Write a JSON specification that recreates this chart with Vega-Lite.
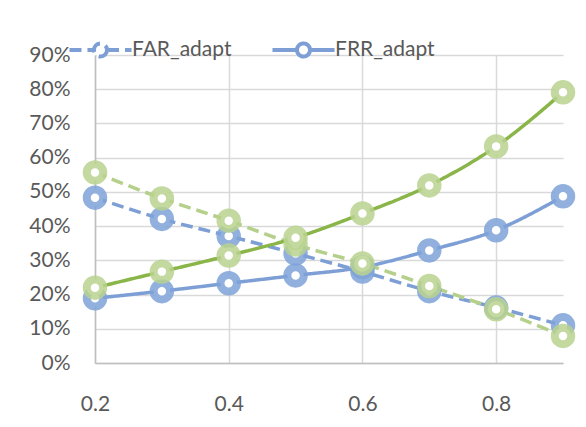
{
  "$schema": "https://vega.github.io/schema/vega-lite/v6.json",
  "autosize": {"type": "none"},
  "padding": {"left": 95, "top": 55, "right": 23, "bottom": 64},
  "width": 468,
  "height": 308,
  "background": "white",
  "config": {
    "view": {"stroke": null},
    "font": "Lato",
    "axis": {"labelFont": "Lato", "labelFontSize": 21, "labelColor": "#595959", "gridColor": "#d9d9d9", "gridWidth": 1.5, "domainColor": "#bfbfbf", "domainWidth": 1.5, "ticks": false, "title": null}
  },
  "data": {
    "values": [
      {"series": "FAR_adapt", "t": 0.2, "v": 0.483},
      {"series": "FAR_adapt", "t": 0.3, "v": 0.421},
      {"series": "FAR_adapt", "t": 0.4, "v": 0.371},
      {"series": "FAR_adapt", "t": 0.5, "v": 0.320},
      {"series": "FAR_adapt", "t": 0.6, "v": 0.267},
      {"series": "FAR_adapt", "t": 0.7, "v": 0.210},
      {"series": "FAR_adapt", "t": 0.8, "v": 0.162},
      {"series": "FAR_adapt", "t": 0.9, "v": 0.110},
      {"series": "FRR_adapt", "t": 0.2, "v": 0.189},
      {"series": "FRR_adapt", "t": 0.3, "v": 0.210},
      {"series": "FRR_adapt", "t": 0.4, "v": 0.233},
      {"series": "FRR_adapt", "t": 0.5, "v": 0.256},
      {"series": "FRR_adapt", "t": 0.6, "v": 0.280},
      {"series": "FRR_adapt", "t": 0.7, "v": 0.329},
      {"series": "FRR_adapt", "t": 0.8, "v": 0.388},
      {"series": "FRR_adapt", "t": 0.9, "v": 0.487},
      {"series": "FAR_static", "t": 0.2, "v": 0.557},
      {"series": "FAR_static", "t": 0.3, "v": 0.481},
      {"series": "FAR_static", "t": 0.4, "v": 0.416},
      {"series": "FAR_static", "t": 0.5, "v": 0.346},
      {"series": "FAR_static", "t": 0.6, "v": 0.291},
      {"series": "FAR_static", "t": 0.7, "v": 0.225},
      {"series": "FAR_static", "t": 0.8, "v": 0.157},
      {"series": "FAR_static", "t": 0.9, "v": 0.079},
      {"series": "FRR_static", "t": 0.2, "v": 0.220},
      {"series": "FRR_static", "t": 0.3, "v": 0.267},
      {"series": "FRR_static", "t": 0.4, "v": 0.314},
      {"series": "FRR_static", "t": 0.5, "v": 0.366},
      {"series": "FRR_static", "t": 0.6, "v": 0.437},
      {"series": "FRR_static", "t": 0.7, "v": 0.519},
      {"series": "FRR_static", "t": 0.8, "v": 0.633},
      {"series": "FRR_static", "t": 0.9, "v": 0.791}
    ]
  },
  "encoding": {
    "x": {"field": "t", "type": "quantitative", "scale": {"domain": [0.2, 0.9], "nice": false, "zero": false},
      "axis": {"values": [0.2, 0.4, 0.6, 0.8], "format": ".1f", "labelPadding": 30, "labelFlush": false}},
    "y": {"field": "v", "type": "quantitative", "scale": {"domain": [0, 0.9], "nice": false},
      "axis": {"values": [0, 0.1, 0.2, 0.3, 0.4, 0.5, 0.6, 0.7, 0.8, 0.9], "format": ".0%", "labelPadding": 25}}
  },
  "layer": [
    {
      "mark": {"type": "line", "strokeWidth": 3.5, "interpolate": "monotone"},
      "encoding": {
        "color": {"field": "series", "type": "nominal",
          "scale": {"domain": ["FAR_adapt", "FRR_adapt", "FAR_static", "FRR_static"], "range": ["#7d9fd5", "#7d9fd5", "#b5d08a", "#8ab548"]},
          "legend": {"values": ["FAR_adapt", "FRR_adapt"], "title": null, "orient": "none", "direction": "horizontal", "legendX": -7, "legendY": -18,
            "symbolType": "M-3,0L-0.63,0M0.63,0L3,0M0.63,0A0.63,0.63,0,1,1,-0.63,0A0.63,0.63,0,1,1,0.63,0Z",
            "symbolSize": 428, "symbolStrokeWidth": 4, "labelOffset": 19, "columnPadding": 32,
            "labelFont": "Lato", "labelFontSize": 21, "labelColor": "#595959",
            "encode": {"symbols": {"update": {"fill": {"value": "white"}, "fillOpacity": {"value": 1}, "strokeDash": {"signal": "datum.value === 'FAR_adapt' ? [6, 4] : [1, 0]"}}}}}},
        "strokeDash": {"field": "series", "type": "nominal",
          "scale": {"domain": ["FAR_adapt", "FRR_adapt", "FAR_static", "FRR_static"], "range": [[12, 6], [1, 0], [12, 6], [1, 0]]},
          "legend": null}
      }
    },
    {
      "mark": {"type": "point", "filled": true, "fill": "white", "fillOpacity": 1, "size": 272, "strokeWidth": 8, "strokeOpacity": 0.85},
      "encoding": {
        "stroke": {"field": "series", "type": "nominal",
          "scale": {"domain": ["FAR_adapt", "FRR_adapt", "FAR_static", "FRR_static"], "range": ["#7ea2d8", "#7ea2d8", "#b8d28e", "#b8d28e"]},
          "legend": null}
      }
    }
  ]
}
